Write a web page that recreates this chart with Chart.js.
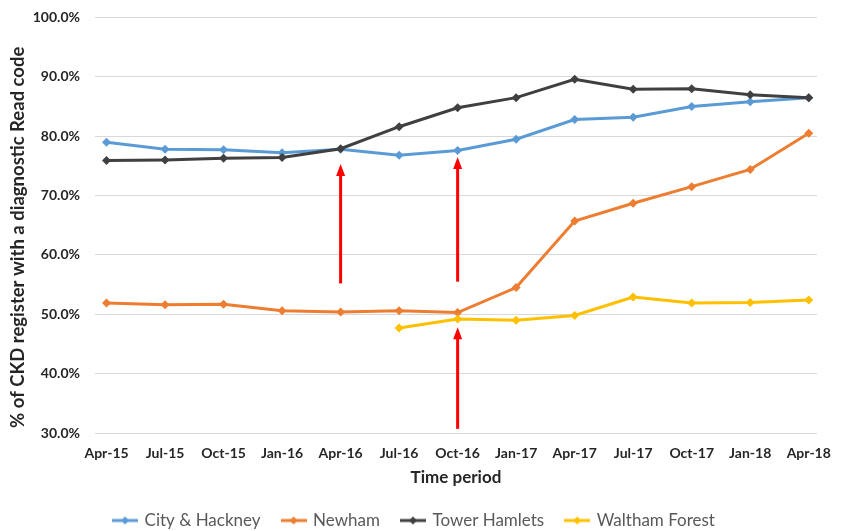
<!DOCTYPE html>
<html>
<head>
<meta charset="utf-8">
<script src="https://cdn.jsdelivr.net/npm/chart.js@4.4.1/dist/chart.umd.min.js"></script>
<style>
  html, body { margin: 0; padding: 0; background: #ffffff; }
  #wrap { width: 843px; height: 531px; }
</style>
</head>
<body>
<div id="wrap"><canvas id="chart" width="843" height="531"></canvas></div>
<script>
// Quarterly periods
const periods = ['Apr-15', 'Jul-15', 'Oct-15', 'Jan-16', 'Apr-16', 'Jul-16', 'Oct-16',
                 'Jan-17', 'Apr-17', 'Jul-17', 'Oct-17', 'Jan-18', 'Apr-18'];

// % of CKD register with a diagnostic Read code, per CCG
const cityHackney    = [79.0, 77.8, 77.7, 77.2, 77.8, 76.8, 77.6, 79.5, 82.8, 83.2, 85.0, 85.8, 86.5];
const newham         = [51.9, 51.6, 51.7, 50.6, 50.4, 50.6, 50.3, 54.5, 65.7, 68.7, 71.5, 74.4, 80.5];
const towerHamlets   = [75.9, 76.0, 76.3, 76.4, 77.9, 81.6, 84.8, 86.5, 89.6, 87.9, 88.0, 87.0, 86.5];
const walthamForest  = [null, null, null, null, null, 47.7, 49.2, 49.0, 49.8, 52.9, 51.9, 52.0, 52.4];

// y-axis ticks
const yTicks = [30, 40, 50, 60, 70, 80, 90, 100];

// Intervention markers: period index, arrow base value, arrow tip value
const arrowPeriod = [4, 6, 6];
const arrowFrom   = [55.2, 55.5, 30.7];
const arrowTo     = [75.3, 76.5, 47.8];

const seriesNames  = ['City & Hackney', 'Newham', 'Tower Hamlets', 'Waltham Forest'];
const seriesValues = [cityHackney, newham, towerHamlets, walthamForest];
const seriesColors = ['#5B9BD5', '#ED7D31', '#404040', '#FFC000'];

const yTitle = '% of CKD register with a diagnostic Read code';

// Legend swatch: short line with a diamond in the middle
function swatch(color) {
  const c = document.createElement('canvas');
  c.width = 26; c.height = 10;
  const g = c.getContext('2d');
  g.strokeStyle = color; g.lineWidth = 3;
  g.beginPath(); g.moveTo(0, 5); g.lineTo(26, 5); g.stroke();
  g.fillStyle = color;
  g.beginPath(); g.moveTo(13, 1); g.lineTo(17, 5); g.lineTo(13, 9); g.lineTo(9, 5); g.closePath(); g.fill();
  return c;
}

const datasets = seriesNames.map((name, i) => ({
  label: name,
  data: seriesValues[i].map((v, k) => ({ x: k, y: v })),
  borderColor: seriesColors[i],
  backgroundColor: seriesColors[i],
  borderWidth: 3,
  pointStyle: 'rectRot',
  pointRadius: 4.5,
  pointHoverRadius: 4.5,
  pointBorderWidth: 0,
  tension: 0,
  spanGaps: false,
  order: seriesNames.length - i
}));

// Red arrows marking the interventions
const arrowPlugin = {
  id: 'arrows',
  afterDatasetsDraw(chart) {
    const { ctx, scales: { x, y } } = chart;
    ctx.save();
    ctx.strokeStyle = '#FF0000';
    ctx.fillStyle = '#FF0000';
    ctx.lineWidth = 3;
    arrowPeriod.forEach((p, i) => {
      const px = x.getPixelForValue(p);
      const y0 = y.getPixelForValue(arrowFrom[i]);
      const y1 = y.getPixelForValue(arrowTo[i]);
      ctx.beginPath();
      ctx.moveTo(px, y0);
      ctx.lineTo(px, y1 + 10);
      ctx.stroke();
      ctx.beginPath();
      ctx.moveTo(px, y1);
      ctx.lineTo(px + 4.5, y1 + 12);
      ctx.lineTo(px - 4.5, y1 + 12);
      ctx.closePath();
      ctx.fill();
    });
    ctx.restore();
  }
};

// Rotated y-axis title, placed a little below the plot's vertical centre
const yTitlePlugin = {
  id: 'yTitle',
  afterDraw(chart) {
    const { ctx, chartArea } = chart;
    ctx.save();
    ctx.translate(18, (chartArea.top + chartArea.bottom) / 2 + 12);
    ctx.rotate(-Math.PI / 2);
    ctx.font = 'bold 18.5px Lato';
    ctx.fillStyle = '#262626';
    ctx.textAlign = 'center';
    ctx.textBaseline = 'middle';
    ctx.fillText(yTitle, 0, 0);
    ctx.restore();
  }
};

new Chart(document.getElementById('chart'), {
  type: 'line',
  data: { datasets },
  plugins: [arrowPlugin, yTitlePlugin],
  options: {
    responsive: false,
    animation: false,
    devicePixelRatio: 1,
    layout: { padding: { top: 17.5, right: 14, left: 0, bottom: -8 } },
    plugins: {
      tooltip: { enabled: false },
      legend: {
        position: 'bottom',
        labels: {
          usePointStyle: true,
          pointStyleWidth: 22,
          padding: 22,
          color: '#595959',
          font: { family: 'Lato', size: 17 },
          sort: (a, b) => a.datasetIndex - b.datasetIndex,
          generateLabels(chart) {
            return chart.data.datasets.map((d, i) => ({
              text: d.label,
              datasetIndex: i,
              fillStyle: d.borderColor,
              strokeStyle: d.borderColor,
              fontColor: '#595959',
              pointStyle: swatch(d.borderColor),
              lineWidth: 0,
              hidden: false
            }));
          }
        }
      }
    },
    scales: {
      x: {
        type: 'linear',
        min: -0.197,
        max: 12.14,
        afterBuildTicks(scale) { scale.ticks = periods.map((_, i) => ({ value: i })); },
        afterFit(scale) { scale.height = 57; },
        grid: { display: false, drawTicks: false },
        border: { display: false },
        ticks: {
          autoSkip: false,
          maxRotation: 0,
          padding: 12,
          color: '#262626',
          font: { family: 'Lato', size: 14, weight: 'bold' },
          callback: (v) => periods[v]
        },
        title: {
          display: true,
          text: 'Time period',
          color: '#262626',
          font: { family: 'Lato', size: 17, weight: 'bold' },
          padding: { top: 2, bottom: 2 }
        }
      },
      y: {
        min: 30,
        max: 100,
        afterBuildTicks(scale) { scale.ticks = yTicks.map(v => ({ value: v })); },
        afterFit(scale) {
          scale.width = 95;
          scale.paddingTop = 0;
          scale.paddingBottom = 0;
        },
        grid: { color: '#D9D9D9', lineWidth: 1, drawTicks: false },
        border: { display: false },
        ticks: {
          padding: 15,
          color: '#262626',
          font: { family: 'Lato', size: 14, weight: 'bold' },
          callback: (v) => v.toFixed(1) + '%'
        },
        title: { display: false }
      }
    }
  }
});
</script>
</body>
</html>
